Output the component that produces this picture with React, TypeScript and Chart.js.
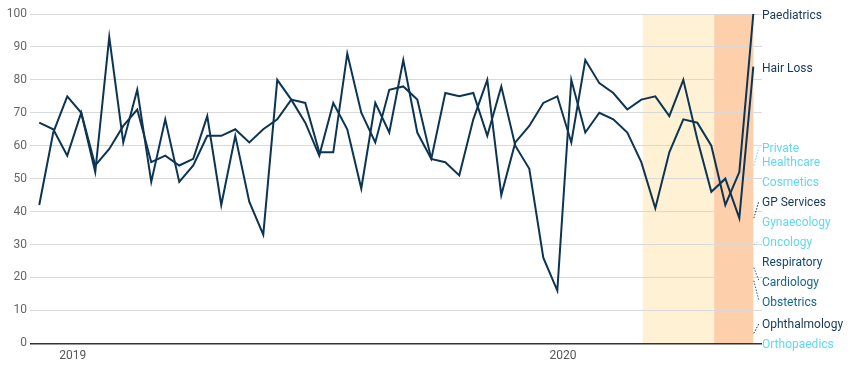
import React, { useEffect, useRef } from "react";
import { Chart, registerables } from "chart.js";

Chart.register(...registerables);

// ---------- data ----------
const paediatrics = [42, 64, 75, 70, 54, 59, 66, 71, 55, 57, 54, 56, 69, 42, 63, 43, 33, 80, 74, 67, 57, 73, 65, 47, 73, 64, 86, 64, 56, 76, 75, 76, 63, 78, 60, 53, 26, 16, 80, 64, 70, 68, 64, 55, 41, 58, 68, 67, 60, 42, 52, 100];
const hairLoss = [67, 65, 57, 70, 52, 93, 61, 77, 49, 68, 49, 54, 63, 63, 65, 61, 65, 68, 74, 73, 58, 58, 88, 70, 61, 77, 78, 74, 56, 55, 51, 68, 80, 45, 61, 66, 73, 75, 61, 86, 79, 76, 71, 74, 75, 69, 80, 62, 46, 50, 38, 84];

const otherNames = ["Private Healthcare", "Cosmetics", "GP Services", "Gynaecology", "Oncology", "Respiratory", "Cardiology", "Obstetrics", "Ophthalmology", "Orthopaedics"];
const otherLastValues = [54, 49, 38, 37, 30, 25, 23, 19, 3, 0];

const xTickPositions = [2.4, 37.4];
const xTickLabels = ["2019", "2020"];
const yTickValues = [0, 10, 20, 30, 40, 50, 60, 70, 80, 90, 100];

const highlightFrom = [43.1, 48.2];
const highlightTo = [48.2, 51];

// ---------- styles ----------
const LINE = "#0c3453";
const DARK = "#17375a";
const CYAN = "#5fd8f2";
const TEAL = "#146690";
const RESP = "#12486f";
const otherColors = [CYAN, CYAN, DARK, CYAN, CYAN, RESP, TEAL, TEAL, DARK, CYAN];
const bandColors = ["#fef1d4", "#fdd0ab"];
const FONT = "Roboto, 'Noto Sans', sans-serif";

const bandsPlugin = {
  id: "bands",
  beforeDraw(chart: any) {
    const { ctx, chartArea, scales } = chart;
    const xs = scales.x;
    ctx.save();
    for (let i = 0; i < highlightFrom.length; i++) {
      const x0 = xs.getPixelForValue(highlightFrom[i]);
      const x1 = xs.getPixelForValue(highlightTo[i]);
      ctx.fillStyle = bandColors[i];
      ctx.fillRect(x0, chartArea.top, x1 - x0, chartArea.bottom - chartArea.top);
    }
    ctx.restore();
  },
};

const endLabelsPlugin = {
  id: "endLabels",
  afterDraw(chart: any) {
    const { ctx, chartArea } = chart;
    const fontSize = 12;
    const lineH = 13.7;
    const slot = 20;
    const textDy = 2;
    const labelX = chartArea.right;
    const maxW = chart.width - labelX - 3;
    ctx.save();
    ctx.font = `${fontSize}px ${FONT}`;
    const items: any[] = [];
    chart.data.datasets.forEach((ds: any, i: number) => {
      const meta = chart.getDatasetMeta(i);
      const pts = meta.data;
      const last = pts[pts.length - 1];
      if (!last) return;
      const words = String(ds.label).split(" ");
      const lines: string[] = [];
      let cur = "";
      for (const w of words) {
        const t = cur ? cur + " " + w : w;
        if (cur && ctx.measureText(t).width > maxW) {
          lines.push(cur);
          cur = w;
        } else cur = t;
      }
      if (cur) lines.push(cur);
      items.push({
        ideal: last.y,
        lastX: last.x,
        lines,
        h: slot + (lines.length - 1) * lineH,
        color: ds.labelColor,
      });
    });
    items.sort((a, b) => a.ideal - b.ideal);
    const minTop = chartArea.top - 10;
    const maxBottom = chartArea.bottom + 10;
    const clamp = (c: any) => {
      if (c.top + c.h > maxBottom) c.top = maxBottom - c.h;
      if (c.top < minTop) c.top = minTop;
    };
    const clusters: any[] = [];
    for (const it of items) {
      clusters.push({ items: [it], h: it.h, top: it.ideal - it.h / 2 });
      while (true) {
        const n = clusters.length;
        const c = clusters[n - 1];
        clamp(c);
        if (n < 2) break;
        const p = clusters[n - 2];
        if (p.top + p.h > c.top + 0.01) {
          const merged: any = { items: p.items.concat(c.items), h: p.h + c.h, top: 0 };
          let off = 0;
          let sum = 0;
          for (const m of merged.items) {
            sum += m.ideal - off - m.h / 2;
            off += m.h;
          }
          merged.top = sum / merged.items.length;
          clusters.splice(n - 2, 2, merged);
        } else break;
      }
    }
    for (const c of clusters) {
      let off = c.top;
      for (const m of c.items) {
        m.y = off + m.h / 2;
        off += m.h;
      }
    }
    ctx.textAlign = "left";
    ctx.textBaseline = "middle";
    for (const m of items) {
      const firstY = m.y - ((m.lines.length - 1) * lineH) / 2;
      if (Math.abs(firstY - m.ideal) > 1.5) {
        ctx.beginPath();
        ctx.setLineDash([1.5, 1.5]);
        ctx.lineWidth = 1;
        ctx.strokeStyle = m.color;
        ctx.moveTo(m.lastX + 0.5, m.ideal);
        ctx.lineTo(labelX - 3, firstY);
        ctx.stroke();
        ctx.setLineDash([]);
      }
      ctx.fillStyle = m.color;
      m.lines.forEach((ln: string, k: number) => {
        ctx.fillText(ln, labelX, firstY + k * lineH + textDy);
      });
    }
    ctx.restore();
  },
};

export default function App() {
  const ref = useRef<HTMLCanvasElement | null>(null);
  useEffect(() => {
    document.body.style.margin = "0";
    const lastIdx = paediatrics.length - 1;
    const datasets: any[] = [
      {
        label: "Paediatrics",
        data: paediatrics.map((v, i) => ({ x: i, y: v })),
        borderColor: LINE,
        labelColor: DARK,
        borderWidth: 2,
        pointRadius: 0,
        tension: 0,
      },
      {
        label: "Hair Loss",
        data: hairLoss.map((v, i) => ({ x: i, y: v })),
        borderColor: LINE,
        labelColor: DARK,
        borderWidth: 2,
        pointRadius: 0,
        tension: 0,
      },
      ...otherNames.map((name, k) => ({
        label: name,
        data: [{ x: lastIdx, y: otherLastValues[k] }],
        borderColor: otherColors[k],
        labelColor: otherColors[k],
        showLine: false,
        pointRadius: 0,
      })),
    ];
    const chart = new Chart(ref.current as HTMLCanvasElement, {
      type: "line",
      data: { datasets },
      plugins: [bandsPlugin, endLabelsPlugin],
      options: {
        animation: false,
        responsive: false,
        devicePixelRatio: 1,
        layout: { padding: { left: 0, right: 89, top: 14, bottom: 0 } },
        plugins: { legend: { display: false }, tooltip: { enabled: false } },
        scales: {
          x: {
            type: "linear",
            min: -0.66,
            max: 51.62,
            grid: { display: false, drawTicks: false },
            border: { display: false },
            afterBuildTicks: (s: any) => {
              s.ticks = xTickPositions.map((v) => ({ value: v }));
            },
            afterFit: (s: any) => {
              s.height = 24.7;
            },
            ticks: {
              autoSkip: false,
              maxRotation: 0,
              padding: 5,
              color: "#555",
              font: { family: FONT, size: 12 },
              callback: (_v: any, i: number) => xTickLabels[i],
            },
          },
          y: {
            min: 0,
            max: 100,
            afterBuildTicks: (s: any) => {
              s.ticks = yTickValues.map((v) => ({ value: v }));
            },
            afterFit: (s: any) => {
              s.width = 30;
            },
            border: { display: false },
            grid: {
              drawTicks: false,
              color: (c: any) => (c.tick && c.tick.value === 0 ? "#333" : "#d9d9d9"),
              lineWidth: (c: any) => (c.tick && c.tick.value === 0 ? 1.5 : 1),
            },
            ticks: {
              padding: 3,
              color: "#666",
              font: { family: FONT, size: 12 },
            },
          },
        },
      } as any,
    });
    return () => chart.destroy();
  }, []);
  return (
    <div style={{ width: 851, height: 368 }}>
      <canvas ref={ref} width={851} height={368} style={{ display: "block" }} />
    </div>
  );
}
